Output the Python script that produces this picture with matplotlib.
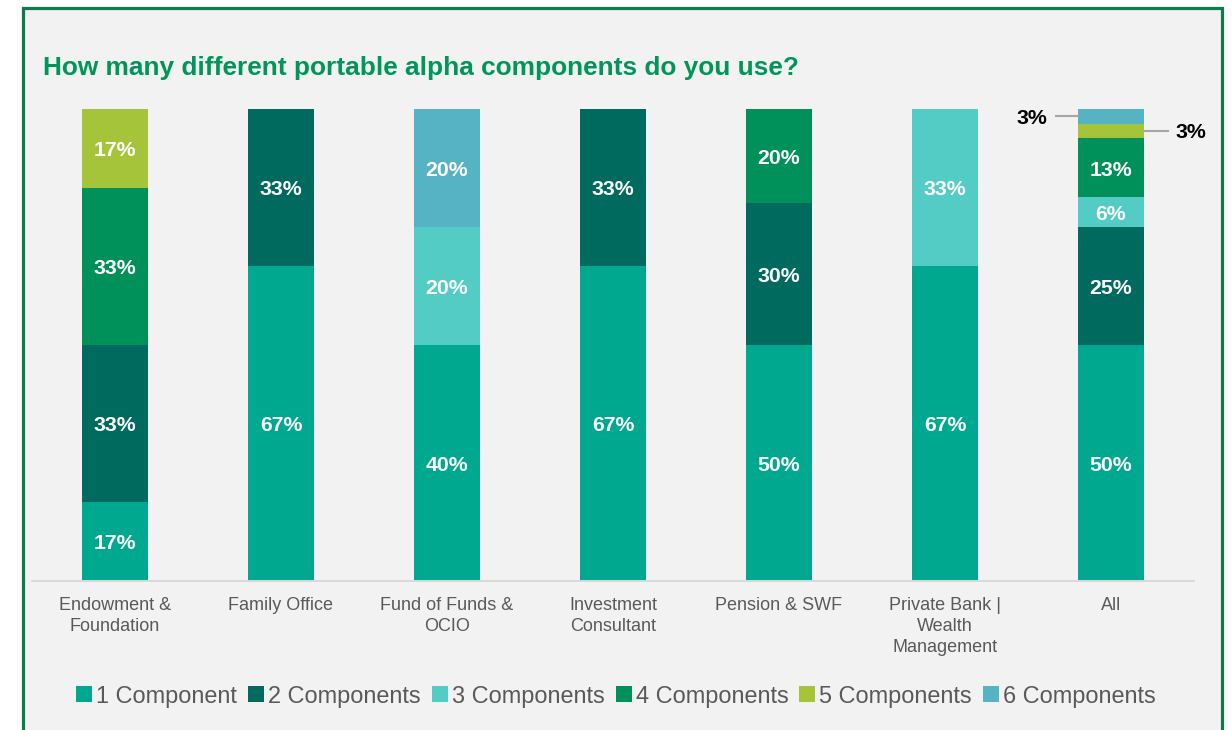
import matplotlib.pyplot as plt
from matplotlib.patches import Rectangle
import numpy as np

plt.rcParams['font.family'] = ['Liberation Sans', 'DejaVu Sans']

# Data (percent of respondents, per investor type)
categories = ['Endowment &\nFoundation', 'Family Office', 'Fund of Funds &\nOCIO',
              'Investment\nConsultant', 'Pension & SWF',
              'Private Bank |\nWealth\nManagement', 'All']
series_names = ['1 Component', '2 Components', '3 Components',
                '4 Components', '5 Components', '6 Components']
one_comp = [16.7, 66.7, 40, 66.7, 50, 66.7, 50]
two_comp = [33.3, 33.3, 0, 33.3, 30, 0, 25]
three_comp = [0, 0, 20, 0, 0, 33.3, 6.25]
four_comp = [33.3, 0, 0, 0, 20, 0, 12.5]
five_comp = [16.7, 0, 0, 0, 0, 0, 3.1]
six_comp = [0, 0, 20, 0, 0, 0, 3.1]

colors = ['#00A88F', '#006A5F', '#52CCC4', '#00915A', '#A6C43A', '#55B3C4']
title_green = '#00965A'
border_green = '#0E7A4E'
gray_text = '#595959'

W, H = 1232, 730
fig = plt.figure(figsize=(W / 100, H / 100), dpi=100, facecolor='white')

# framed light-gray panel
fig.patches.append(Rectangle((22.5 / W, -0.1), 1199 / W, 1.1 - 8.5 / H,
                             transform=fig.transFigure, facecolor='#F2F2F2',
                             edgecolor=border_green, linewidth=2.3, zorder=-10))

ax = fig.add_axes([32 / W, (H - 581) / H, 1162 / W, 472 / H])
ax.set_facecolor('none')

data = np.array([one_comp, two_comp, three_comp, four_comp, five_comp, six_comp], dtype=float)
totals = data.sum(axis=0)
shares = data / totals  # 100% stacked
x = np.arange(len(categories))
bar_w = 0.4


def pct(v):
    return f'{int(v + 0.5)}%'


bottom = np.zeros(len(categories))
small_side = {4: 'right', 5: 'left'}
for k in range(len(series_names)):
    ax.bar(x, shares[k], bar_w, bottom=bottom, color=colors[k],
           label=series_names[k], zorder=2)
    for i in range(len(categories)):
        v = data[k, i]
        if v == 0:
            continue
        yc = bottom[i] + shares[k, i] / 2
        if shares[k, i] >= 0.05:
            ax.text(x[i], yc - 0.005, pct(v), ha='center', va='center',
                    color='white', fontsize=15.3, fontweight='bold', zorder=3)
        else:
            side = small_side.get(k, 'right')
            if side == 'left':
                x0 = x[i] - bar_w / 2
                ax.plot([x0 - 0.13, x0], [yc, yc], color='#A6A6A6', lw=1.5,
                        clip_on=False, zorder=3)
                ax.text(x0 - 0.185, yc - 0.004, pct(v), ha='right', va='center',
                        color='black', fontsize=15.3, fontweight='bold')
            else:
                x0 = x[i] + bar_w / 2
                ax.plot([x0, x0 + 0.145], [yc, yc], color='#A6A6A6', lw=1.5,
                        clip_on=False, zorder=3)
                ax.text(x0 + 0.19, yc - 0.003, pct(v), ha='left', va='center',
                        color='black', fontsize=15.3, fontweight='bold')
    bottom += shares[k]

ax.set_xlim(-0.5, len(categories) - 0.5)
ax.set_ylim(0, 1)
ax.set_yticks([])
ax.set_xticks(x)
ax.set_xticklabels(categories, fontsize=13, color=gray_text, linespacing=1.31)
ax.tick_params(axis='x', length=0, pad=11.5)
for s in ['top', 'right', 'left']:
    ax.spines[s].set_visible(False)
ax.spines['bottom'].set_color('#D9D9D9')
ax.spines['bottom'].set_linewidth(1.4)

fig.text(43 / W, (H - 75) / H, 'How many different portable alpha components do you use?',
         fontsize=18.9, fontweight='bold', color=title_green, va='baseline', ha='left')

leg = ax.legend(loc='center', bbox_to_anchor=(616 / W, (H - 696) / H),
                bbox_transform=fig.transFigure, ncol=6, frameon=False,
                fontsize=16.9, handlelength=0.68, handleheight=0.68,
                handletextpad=0.17, columnspacing=0.47, borderaxespad=0)
for t in leg.get_texts():
    t.set_color(gray_text)

fig.savefig('out.png', dpi=100, facecolor='white')
